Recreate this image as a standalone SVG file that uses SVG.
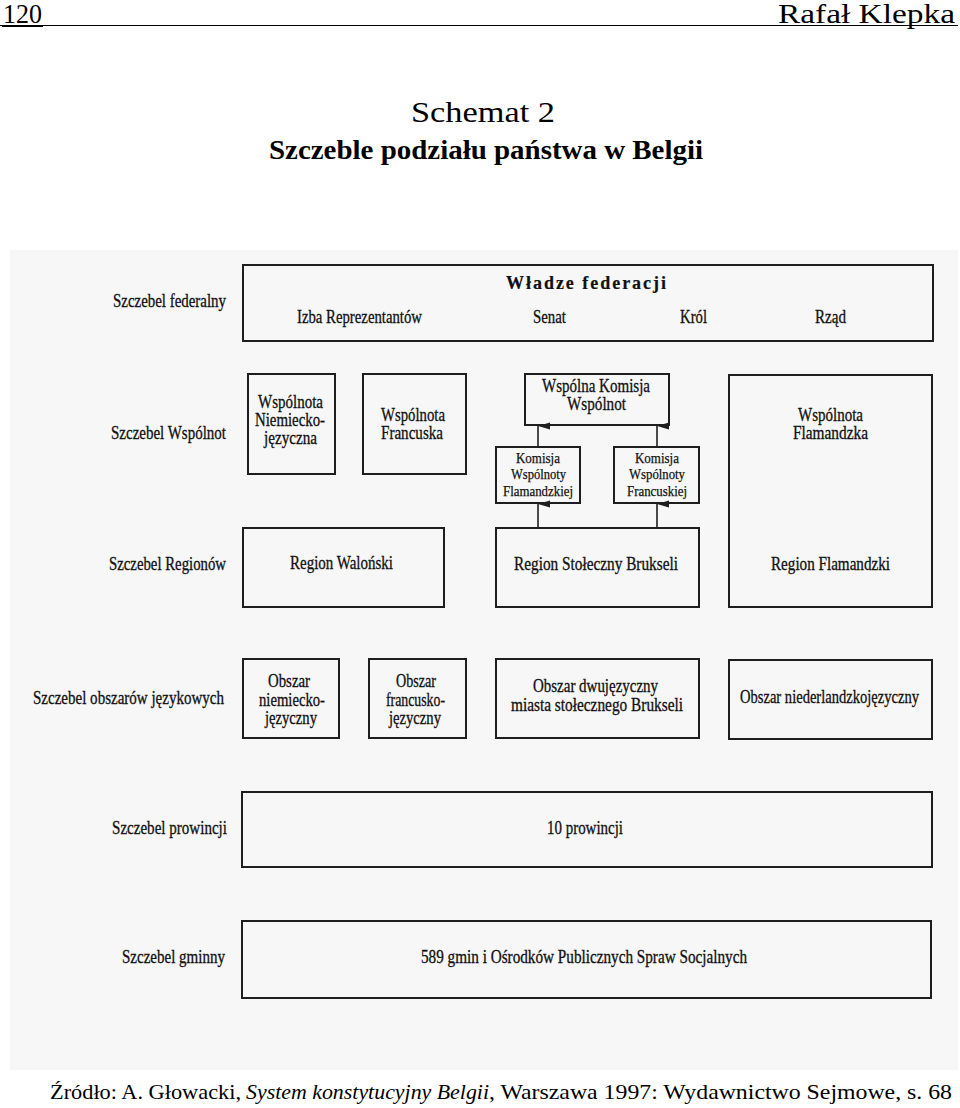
<svg xmlns="http://www.w3.org/2000/svg" width="960" height="1108" viewBox="0 0 960 1108">
<style>
.t{font-family:"Liberation Serif","Times New Roman",serif;font-size:18px;fill:#111;stroke:#111;stroke-width:0.3}
.s{font-size:15px;stroke-width:0.25}
.b{font-weight:bold;stroke-width:0.2}
.box{fill:none;stroke:#1e1e1e;stroke-width:2}
.con{stroke:#1e1e1e;stroke-width:1.6;fill:none}
.hdr{font-family:"Liberation Serif","Times New Roman",serif;fill:#000}
</style>
<defs>
<marker id="ah" markerUnits="userSpaceOnUse" markerWidth="8" markerHeight="12" viewBox="0 0 8 12" refX="4" refY="0" orient="auto-start-reverse">
<path d="M4,0 L7.5,12 L0.5,12 Z" fill="#1e1e1e"/>
</marker>
</defs>
<rect width="960" height="1108" fill="#ffffff"/>
<rect x="10" y="250" width="948" height="820" fill="#f7f7f7"/>

<g id="header">
<text class="hdr" x="3" y="23" font-size="27" textLength="39" lengthAdjust="spacingAndGlyphs">120</text>
<text class="hdr" x="778" y="23" font-size="27" textLength="177" lengthAdjust="spacingAndGlyphs">Rafał Klepka</text>
<line x1="0" y1="25.5" x2="958" y2="25.5" stroke="#000" stroke-width="1.2"/>
<line x1="2" y1="26" x2="43" y2="26" stroke="#000" stroke-width="2.2"/>
<text class="hdr" x="411" y="122" font-size="30" textLength="144" lengthAdjust="spacingAndGlyphs">Schemat 2</text>
<text class="hdr" x="269" y="159" font-size="28" font-weight="bold" textLength="434" lengthAdjust="spacingAndGlyphs">Szczeble podziału państwa w Belgii</text>
</g>

<g id="levels" class="t">
<text x="113" y="307" textLength="113" lengthAdjust="spacingAndGlyphs">Szczebel federalny</text>
<text x="111" y="439" textLength="115" lengthAdjust="spacingAndGlyphs">Szczebel Wspólnot</text>
<text x="109" y="570" textLength="117" lengthAdjust="spacingAndGlyphs">Szczebel Regionów</text>
<text x="33" y="704" textLength="191" lengthAdjust="spacingAndGlyphs">Szczebel obszarów językowych</text>
<text x="112" y="834" textLength="115" lengthAdjust="spacingAndGlyphs">Szczebel prowincji</text>
<text x="122" y="963" textLength="103" lengthAdjust="spacingAndGlyphs">Szczebel gminny</text>
</g>

<g id="wladze-federacji">
<rect class="box" x="243" y="265" width="690" height="76"/>
<text class="t b" x="506" y="289" font-size="19" textLength="160" lengthAdjust="spacing">Władze federacji</text>
<text class="t" x="297" y="323" textLength="125" lengthAdjust="spacingAndGlyphs">Izba Reprezentantów</text>
<text class="t" x="533" y="323" textLength="33" lengthAdjust="spacingAndGlyphs">Senat</text>
<text class="t" x="680" y="323" textLength="27" lengthAdjust="spacingAndGlyphs">Król</text>
<text class="t" x="815" y="323" textLength="31" lengthAdjust="spacingAndGlyphs">Rząd</text>
</g>

<g id="wsp-niem">
<rect class="box" x="248" y="374" width="87" height="100"/>
<text class="t" x="258" y="408" textLength="65" lengthAdjust="spacingAndGlyphs">Wspólnota</text>
<text class="t" x="255" y="426" textLength="70" lengthAdjust="spacingAndGlyphs">Niemiecko-</text>
<text class="t" x="264" y="444" textLength="53" lengthAdjust="spacingAndGlyphs">języczna</text>
</g>

<g id="wsp-fran">
<rect class="box" x="363" y="374" width="103" height="100"/>
<text class="t" x="381" y="421" textLength="64" lengthAdjust="spacingAndGlyphs">Wspólnota</text>
<text class="t" x="381" y="439" textLength="62" lengthAdjust="spacingAndGlyphs">Francuska</text>
</g>

<g id="wspolna-komisja">
<rect class="box" x="525" y="374" width="144" height="51"/>
<text class="t" x="542" y="392" textLength="108" lengthAdjust="spacingAndGlyphs">Wspólna Komisja</text>
<text class="t" x="567" y="410" textLength="59" lengthAdjust="spacingAndGlyphs">Wspólnot</text>
</g>

<g id="komisja-flam">
<rect class="box" x="496" y="447" width="84" height="56"/>
<text class="t s" x="516" y="463" textLength="44" lengthAdjust="spacingAndGlyphs">Komisja</text>
<text class="t s" x="511" y="479" textLength="55" lengthAdjust="spacingAndGlyphs">Wspólnoty</text>
<text class="t s" x="503" y="496" textLength="70" lengthAdjust="spacingAndGlyphs">Flamandzkiej</text>
</g>

<g id="komisja-fran">
<rect class="box" x="614" y="447" width="85" height="56"/>
<text class="t s" x="635" y="463" textLength="44" lengthAdjust="spacingAndGlyphs">Komisja</text>
<text class="t s" x="629" y="479" textLength="56" lengthAdjust="spacingAndGlyphs">Wspólnoty</text>
<text class="t s" x="627" y="496" textLength="60" lengthAdjust="spacingAndGlyphs">Francuskiej</text>
</g>

<g id="wsp-flam">
<rect class="box" x="729" y="375" width="203" height="232"/>
<text class="t" x="798" y="421" textLength="65" lengthAdjust="spacingAndGlyphs">Wspólnota</text>
<text class="t" x="793" y="439" textLength="75" lengthAdjust="spacingAndGlyphs">Flamandzka</text>
<text class="t" x="771" y="570" textLength="119" lengthAdjust="spacingAndGlyphs">Region Flamandzki</text>
</g>

<g id="region-walon">
<rect class="box" x="243" y="528" width="201" height="79"/>
<text class="t" x="290" y="569" textLength="103" lengthAdjust="spacingAndGlyphs">Region Waloński</text>
</g>

<g id="region-bruks">
<rect class="box" x="496" y="528" width="203" height="79"/>
<text class="t" x="514" y="570" textLength="164" lengthAdjust="spacingAndGlyphs">Region Stołeczny Brukseli</text>
</g>

<g id="obszar-niem">
<rect class="box" x="243" y="659" width="96" height="79"/>
<text class="t" x="268" y="687" textLength="42" lengthAdjust="spacingAndGlyphs">Obszar</text>
<text class="t" x="259" y="706" textLength="66" lengthAdjust="spacingAndGlyphs">niemiecko-</text>
<text class="t" x="265" y="724" textLength="52" lengthAdjust="spacingAndGlyphs">języczny</text>
</g>

<g id="obszar-fran">
<rect class="box" x="369" y="659" width="97" height="79"/>
<text class="t" x="396" y="687" textLength="40" lengthAdjust="spacingAndGlyphs">Obszar</text>
<text class="t" x="386" y="706" textLength="59" lengthAdjust="spacingAndGlyphs">francusko-</text>
<text class="t" x="389" y="724" textLength="52" lengthAdjust="spacingAndGlyphs">języczny</text>
</g>

<g id="obszar-dwuj">
<rect class="box" x="496" y="659" width="203" height="79"/>
<text class="t" x="533" y="692" textLength="125" lengthAdjust="spacingAndGlyphs">Obszar dwujęzyczny</text>
<text class="t" x="511" y="711" textLength="172" lengthAdjust="spacingAndGlyphs">miasta stołecznego Brukseli</text>
</g>

<g id="obszar-nider">
<rect class="box" x="729" y="660" width="203" height="79"/>
<text class="t" x="740" y="703" textLength="179" lengthAdjust="spacingAndGlyphs">Obszar niederlandzkojęzyczny</text>
</g>

<g id="prowincje">
<rect class="box" x="242" y="792" width="690" height="75"/>
<text class="t" x="547" y="834" textLength="76" lengthAdjust="spacingAndGlyphs">10 prowincji</text>
</g>

<g id="gminy">
<rect class="box" x="242" y="921" width="689" height="77"/>
<text class="t" x="421" y="963" textLength="326" lengthAdjust="spacingAndGlyphs">589 gmin i Ośrodków Publicznych Spraw Socjalnych</text>
</g>

<g id="connectors">
<line class="con" x1="538" y1="447" x2="538" y2="426" marker-end="url(#ah)"/>
<line class="con" x1="657" y1="447" x2="657" y2="426" marker-end="url(#ah)"/>
<line class="con" x1="538" y1="528" x2="538" y2="504" marker-end="url(#ah)"/>
<line class="con" x1="657" y1="528" x2="657" y2="504" marker-end="url(#ah)"/>
</g>

<g id="footer">
<text class="hdr" x="50" y="1099" font-size="22" textLength="191" lengthAdjust="spacingAndGlyphs">Źródło: A. Głowacki,</text>
<text class="hdr" x="246" y="1099" font-size="22" font-style="italic" textLength="243" lengthAdjust="spacingAndGlyphs">System konstytucyjny Belgii</text>
<text class="hdr" x="489" y="1099" font-size="22" textLength="463" lengthAdjust="spacingAndGlyphs">, Warszawa 1997: Wydawnictwo Sejmowe, s. 68</text>
</g>
</svg>
